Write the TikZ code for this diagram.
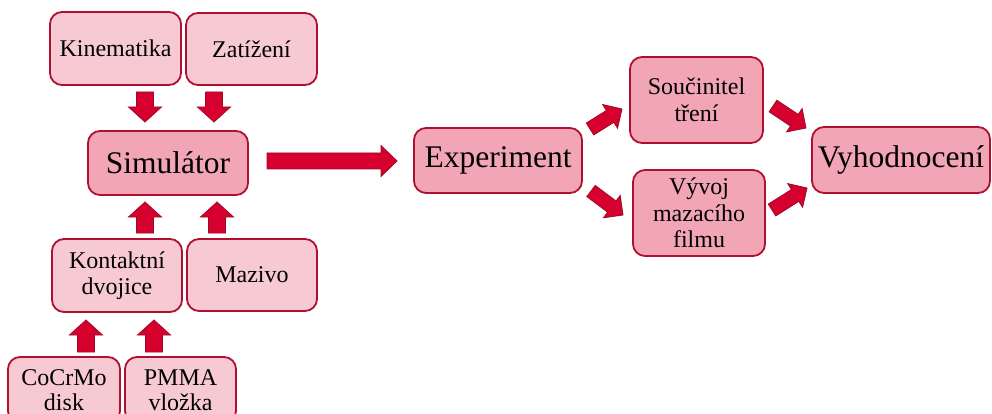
\documentclass[tikz,border=0pt]{standalone}
\usepackage{fontspec}
\setmainfont{Liberation Serif}
\usetikzlibrary{calc}
\definecolor{boxline}{HTML}{B0102F}
\definecolor{lightfill}{HTML}{F7CAD3}
\definecolor{darkfill}{HTML}{F2A6B5}
\definecolor{arrfill}{HTML}{D6002E}
\definecolor{arrline}{HTML}{9E0A28}
\newcommand\blockarr[5]{%
  \path ($(#2)!#5!(#1)$) coordinate (bhP);
  \filldraw[barrow] ($(#1)!#3!90:(#2)$) -- ($(bhP)!#3!90:(#2)$) -- ($(bhP)!#4!90:(#2)$) -- (#2) -- ($(bhP)!#4!-90:(#2)$) -- ($(bhP)!#3!-90:(#2)$) -- ($(#1)!#3!-90:(#2)$) -- cycle;}
\tikzset{
  box/.style={draw=boxline, line width=1.8pt, rounded corners=12pt, align=center, inner sep=0pt},
  lbox/.style={box, fill=lightfill, font=\fontsize{24}{25.5}\selectfont},
  dbox/.style={box, fill=darkfill},
  small/.style={font=\fontsize{24}{26.5}\selectfont},
  big/.style={font=\fontsize{31.5}{34}\selectfont},
  barrow/.style={fill=arrfill, draw=arrline, line width=0.8pt, line join=miter}
}
\begin{document}
\begin{tikzpicture}[x=1pt,y=-1pt]
\clip (0,0) rectangle (992,414);
\fill[white] (0,0) rectangle (992,414);
% input boxes
\node[lbox, minimum width=131pt, minimum height=73pt] (kin) at (115.5,48.5) {Kinematika};
\node[lbox, minimum width=131pt, minimum height=72pt] (zat) at (251.5,49) {Zatížení};
\node[dbox, big, minimum width=160pt, minimum height=64pt] (sim) at (168,163) {Simulátor};
\node[lbox, minimum width=130pt, minimum height=73pt] (kon) at (117,275.5) {Kontaktní\\dvojice};
\node[lbox, minimum width=130pt, minimum height=72pt] (maz) at (252,275) {Mazivo};
\node[lbox, minimum width=112pt, minimum height=66pt] (coc) at (64,390) {CoCrMo\\disk};
\node[lbox, minimum width=111pt, minimum height=66pt] (pmma) at (180.5,390) {PMMA\\vložka};
\node[dbox, big, minimum width=168pt, minimum height=65pt] (exp) at (498,160.5) {Experiment};
\node[dbox, small, minimum width=133pt, minimum height=86pt] (sou) at (696.5,100) {Součinitel\\tření};
\node[dbox, small, minimum width=132pt, minimum height=86pt] (vyv) at (699,213) {Vývoj\\mazacího\\filmu};
\node[dbox, big, minimum width=178pt, minimum height=66pt] (vyh) at (901,160) {Vyhodnocení};
% arrow end points
\coordinate (a1s) at (145,92);  \coordinate (a1e) at (145,122);
\coordinate (a2s) at (214,92);  \coordinate (a2e) at (214,122);
\coordinate (a3s) at (145,233); \coordinate (a3e) at (145,202);
\coordinate (a4s) at (217,233); \coordinate (a4e) at (217,202);
\coordinate (a5s) at (86,352);  \coordinate (a5e) at (86,320);
\coordinate (a6s) at (154,352); \coordinate (a6e) at (154,320);
\coordinate (bgs) at (267,161); \coordinate (bge) at (397,161);
\coordinate (d1s) at (590,129); \coordinate (d1e) at (622,109);
\coordinate (d2s) at (591,191); \coordinate (d2e) at (623,215);
\coordinate (d3s) at (773,106); \coordinate (d3e) at (806,128);
\coordinate (d4s) at (772,210); \coordinate (d4e) at (807,188);
\blockarr{a1s}{a1e}{8.5pt}{16.5pt}{15pt}
\blockarr{a2s}{a2e}{8.5pt}{16.5pt}{15pt}
\blockarr{a3s}{a3e}{8.5pt}{16.5pt}{15pt}
\blockarr{a4s}{a4e}{8.5pt}{16.5pt}{15pt}
\blockarr{a5s}{a5e}{8.5pt}{16.5pt}{15pt}
\blockarr{a6s}{a6e}{8.5pt}{16.5pt}{15pt}
\blockarr{bgs}{bge}{8pt}{15.5pt}{16pt}
\blockarr{d1s}{d1e}{7pt}{14pt}{14pt}
\blockarr{d2s}{d2e}{7pt}{14pt}{14pt}
\blockarr{d3s}{d3e}{7pt}{14pt}{14pt}
\blockarr{d4s}{d4e}{7pt}{14pt}{14pt}
\end{tikzpicture}
\end{document}
